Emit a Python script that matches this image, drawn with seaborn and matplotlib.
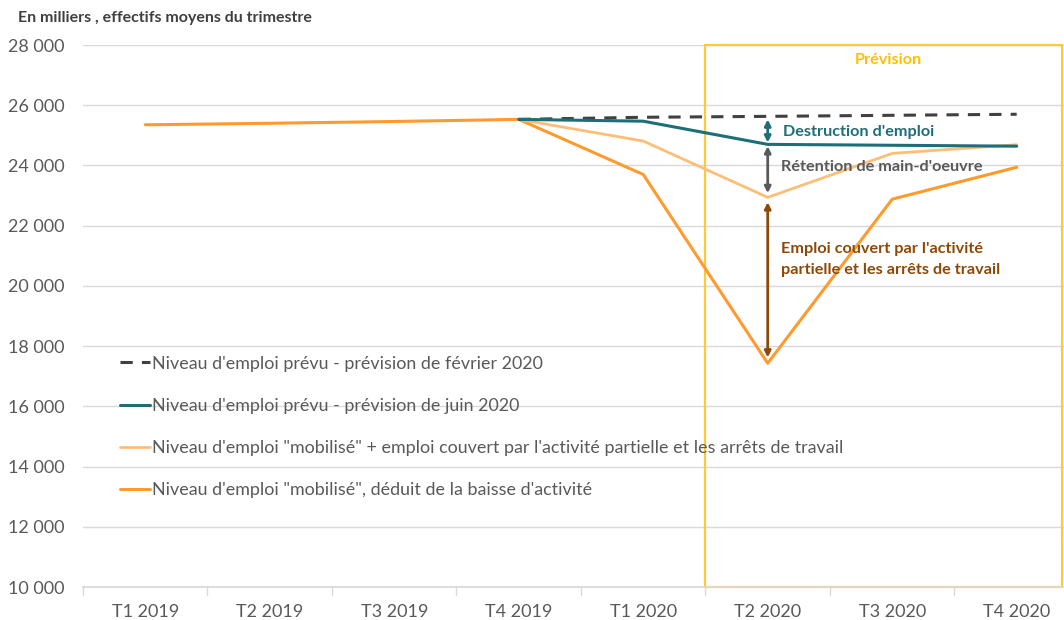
import matplotlib
matplotlib.use("Agg")
import matplotlib.pyplot as plt
import seaborn as sns
import pandas as pd
import numpy as np
from matplotlib.patches import Rectangle

quarters = ["T1 2019", "T2 2019", "T3 2019", "T4 2019", "T1 2020", "T2 2020", "T3 2020", "T4 2020"]
prev_fev = [np.nan, np.nan, np.nan, 25530, 25600, 25630, 25665, 25700]
prev_juin = [np.nan, np.nan, np.nan, 25530, 25470, 24700, 24670, 24640]
mobilise_plus = [np.nan, np.nan, np.nan, 25530, 24810, 22940, 24400, 24690]
mobilise = [25350, 25400, 25460, 25530, 23700, 17430, 22880, 23940]

labels = [
    "Niveau d'emploi prévu - prévision de février 2020",
    "Niveau d'emploi prévu - prévision de juin 2020",
    "Niveau d'emploi \"mobilisé\" + emploi couvert par l'activité partielle et les arrêts de travail",
    "Niveau d'emploi \"mobilisé\", déduit de la baisse d'activité",
]
colors = ["#404040", "#1E6E78", "#FFBE78", "#FF9A2E"]
styles = [(0, (4, 3)), "-", "-", "-"]

sns.set_theme(style="white")
plt.rcParams["font.family"] = ["Lato", "DejaVu Sans"]

fig = plt.figure(figsize=(10.64, 6.2), dpi=100)
ax = fig.add_axes([83 / 1064, 33 / 620, 981 / 1064, 542 / 620])

series = [prev_fev, prev_juin, mobilise_plus, mobilise]
order = [3, 2, 0, 1]
handles = {}
for k in order:
    d = pd.DataFrame({"x": np.arange(len(quarters)), "y": series[k]}).dropna()
    sns.lineplot(data=d, x="x", y="y", ax=ax, color=colors[k], linewidth=2.2 if k != 2 else 2.0,
                 linestyle=styles[k], label=labels[k], legend=False)
    handles[k] = ax.lines[-1]

ax.set_xlim(-0.5, 7.38)
ax.set_ylim(10000, 28000)
ax.set_yticks(np.arange(10000, 28001, 2000))
ax.set_yticklabels([f"{v:,}".replace(",", " ") for v in range(10000, 28001, 2000)])
ax.set_xticks(range(len(quarters)))
ax.set_xticklabels(quarters)
ax.set_xlabel("")
ax.set_ylabel("")
ax.yaxis.grid(True, color="#D9D9D9", linewidth=1)
ax.set_axisbelow(True)
for s in ["top", "right", "left"]:
    ax.spines[s].set_visible(False)
ax.spines["bottom"].set_color("#D9D9D9")
ax.tick_params(axis="y", length=0, labelsize=13, labelcolor="#595959", pad=13)
ax.tick_params(axis="x", length=0, labelsize=13, labelcolor="#595959", pad=12)
for i in range(9):
    ax.plot([i - 0.5, i - 0.5], [10000, 9750], color="#D9D9D9", lw=1, clip_on=False)

# forecast box
ax.add_patch(Rectangle((4.5, 10000), 2.865, 18000, fill=False, edgecolor="#FFC935", lw=1.6, clip_on=False, zorder=1))
ax.text(5.966, 27500, "Prévision", color="#FFC000", fontsize=11.7, fontweight="bold", ha="center", va="center")

def varrow(x, y0, y1, color):
    ax.annotate("", xy=(x, y1), xytext=(x, y0),
                arrowprops=dict(arrowstyle="<|-|>", color=color, lw=2, mutation_scale=9, shrinkA=0, shrinkB=0))

varrow(5.0, 25530, 24760, "#1E6E78")
varrow(5.0, 24640, 23080, "#595959")
varrow(5.0, 22780, 17620, "#8C4A0A")
ax.text(5.12, 25100, "Destruction d'emploi", color="#1E6E78", fontsize=11.7, fontweight="bold", va="center")
ax.text(5.11, 23950, "Rétention de main-d'oeuvre", color="#595959", fontsize=11.7, fontweight="bold", va="center")
ax.text(5.11, 20870, "Emploi couvert par l'activité\npartielle et les arrêts de travail", color="#8C4A0A",
        fontsize=11.7, fontweight="bold", va="center", linespacing=1.6)

leg = ax.legend([handles[k] for k in range(4)], labels, loc="upper left", bbox_to_anchor=(0.03, 0.44),
                frameon=False, fontsize=12.9, labelspacing=1.46, handlelength=1.7, handletextpad=0.1,
                borderaxespad=0)
for t in leg.get_texts():
    t.set_color("#595959")

fig.text(18 / 1064, 1 - 18 / 620, "En milliers , effectifs moyens du trimestre", fontsize=11.5,
         fontweight="bold", color="#404040", va="center", ha="left")

fig.savefig("out.png", dpi=100)
